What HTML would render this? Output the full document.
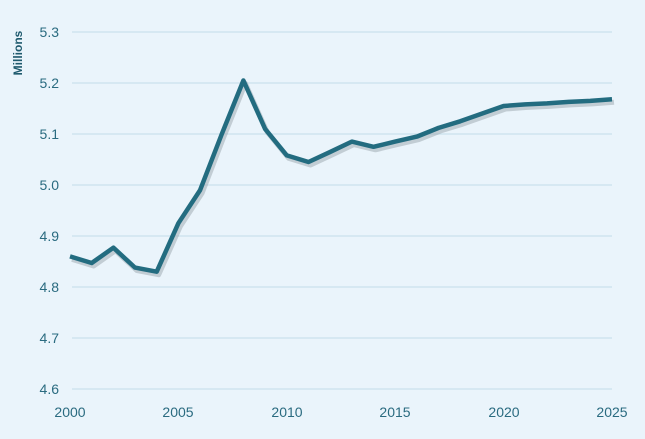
<!DOCTYPE html>
<html><head><meta charset="utf-8"><style>
html,body{margin:0;padding:0;background:#eaf4fb;}
svg{display:block;font-family:"Liberation Sans",sans-serif;}
</style></head><body>
<svg width="645" height="439" viewBox="0 0 645 439">
<rect width="645" height="439" fill="#eaf4fb"/>
<g stroke="#c9e1ec" stroke-width="1.2">
<line x1="72" x2="612" y1="32" y2="32"/>
<line x1="72" x2="612" y1="83" y2="83"/>
<line x1="72" x2="612" y1="134" y2="134"/>
<line x1="72" x2="612" y1="185" y2="185"/>
<line x1="72" x2="612" y1="236" y2="236"/>
<line x1="72" x2="612" y1="287" y2="287"/>
<line x1="72" x2="612" y1="338" y2="338"/>
<line x1="72" x2="612" y1="389" y2="389"/>
</g>
<g fill="#2a6b80" font-size="14" text-anchor="end">
<text x="59" y="37">5.3</text>
<text x="59" y="88">5.2</text>
<text x="59" y="139">5.1</text>
<text x="59" y="190">5.0</text>
<text x="59" y="241">4.9</text>
<text x="59" y="292">4.8</text>
<text x="59" y="343">4.7</text>
<text x="59" y="394">4.6</text>
</g>
<g fill="#2a6b80" font-size="14" text-anchor="middle">
<text x="70" y="417">2000</text>
<text x="178" y="417">2005</text>
<text x="287" y="417">2010</text>
<text x="395" y="417">2015</text>
<text x="504" y="417">2020</text>
<text x="612" y="417">2025</text>
</g>
<text transform="translate(22,53) rotate(-90)" fill="#1f5a6e" font-size="12" font-weight="bold" text-anchor="middle">Millions</text>
<polyline fill="none" stroke="#9aa6ad" stroke-opacity="0.5" stroke-width="5" stroke-linejoin="round" transform="translate(2,3)" points="70,256.4 91.7,263 113.4,247.7 135,267.6 156.7,271.7 178.4,223.2 200.1,190.1 221.8,134 243.4,80.5 265.1,128.9 286.8,155.4 308.5,162 330.2,151.9 351.8,141.6 373.5,146.8 395.2,141.6 416.9,136.6 438.6,127.9 460.2,121.3 481.9,113.6 503.6,106 525.3,104.4 547,103.4 568.6,101.9 590.3,100.9 612,99.3"/>
<polyline fill="none" stroke="#236c80" stroke-width="4.5" stroke-linejoin="round" points="70,256.4 91.7,263 113.4,247.7 135,267.6 156.7,271.7 178.4,223.2 200.1,190.1 221.8,134 243.4,80.5 265.1,128.9 286.8,155.4 308.5,162 330.2,151.9 351.8,141.6 373.5,146.8 395.2,141.6 416.9,136.6 438.6,127.9 460.2,121.3 481.9,113.6 503.6,106 525.3,104.4 547,103.4 568.6,101.9 590.3,100.9 612,99.3"/>
</svg>
</body></html>
